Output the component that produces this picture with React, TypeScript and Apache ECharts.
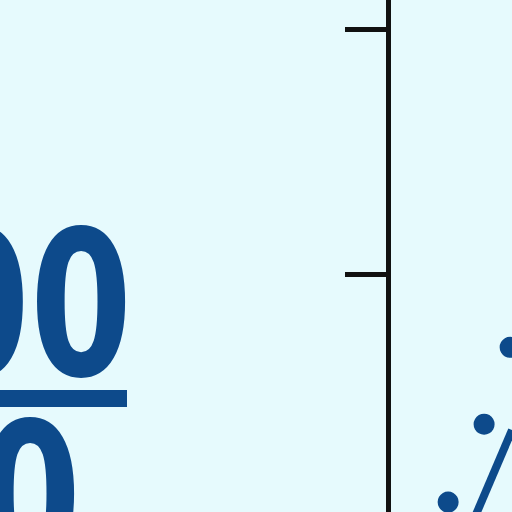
import React, { useEffect, useRef } from 'react';
import * as echarts from 'echarts';

// y axis: visible range and tick values (labels are cut off in this view)
const yMin = 0.0266;
const yMax = 2.1207;
const yTicks = [1, 2];
// scatter points (x, y)
const dotX = [1.94, 3.1, 3.94];
const dotY = [0.067, 0.386, 0.7];
// solid line (x, y)
const lineX = [2.75, 4.0];
const lineY = [-0.01, 0.362];
// big label texts
const topLabel = '00';
const bottomLabel = '0';

const BG = '#e6fafd';
const BLUE = '#0d4a8b';
const BIG_FONT = 'bold 201px "DejaVu Sans", sans-serif';

const App: React.FC = () => {
  const chartRef = useRef<HTMLDivElement>(null);

  useEffect(() => {
    if (!chartRef.current) return;
    const chart = echarts.init(chartRef.current, undefined, { renderer: 'svg' });

    const option: echarts.EChartsOption = {
      animation: false,
      backgroundColor: BG,
      grid: {
        left: 388,
        right: 0,
        top: 0,
        bottom: 0,
      },
      xAxis: {
        type: 'value',
        min: 0,
        max: 4,
        show: false,
      },
      yAxis: {
        type: 'value',
        min: yMin,
        max: yMax,
        axisLine: {
          show: true,
          lineStyle: { color: '#111', width: 5 },
        },
        axisTick: {
          show: true,
          length: 43,
          customValues: yTicks,
          lineStyle: { color: '#111', width: 5 },
        },
        axisLabel: { show: false },
        splitLine: { show: false },
      },
      series: [
        {
          type: 'line',
          data: lineX.map((x, i) => [x, lineY[i]]),
          symbol: 'none',
          lineStyle: { color: BLUE, width: 8 },
          z: 2,
        },
        {
          type: 'scatter',
          data: dotX.map((x, i) => [x, dotY[i]]),
          symbolSize: 21,
          itemStyle: { color: BLUE, opacity: 1 },
          z: 3,
        },
      ],
      graphic: [
        {
          type: 'text',
          x: 132,
          y: 305.5,
          scaleX: 0.73,
          style: {
            text: topLabel,
            fill: BLUE,
            font: BIG_FONT,
            align: 'right',
            verticalAlign: 'middle',
          },
        },
        {
          type: 'rect',
          shape: { x: -5, y: 390, width: 132, height: 17 },
          style: { fill: BLUE },
        },
        {
          type: 'text',
          x: 81,
          y: 497.5,
          scaleX: 0.73,
          style: {
            text: bottomLabel,
            fill: BLUE,
            font: BIG_FONT,
            align: 'right',
            verticalAlign: 'middle',
          },
        },
      ],
    };

    chart.setOption(option);
    return () => {
      chart.dispose();
    };
  }, []);

  return (
    <div
      ref={chartRef}
      style={{ position: 'fixed', left: 0, top: 0, width: '512px', height: '512px' }}
    />
  );
};

export default App;
